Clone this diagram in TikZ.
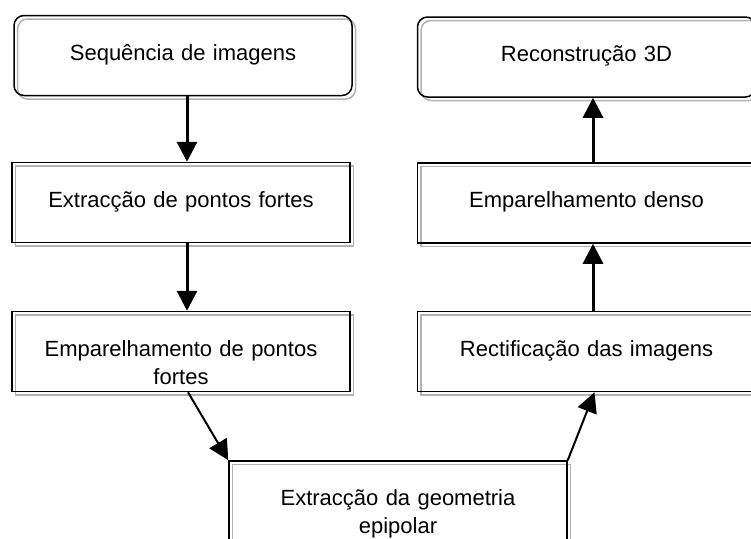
\documentclass[tikz,border=0pt]{standalone}
\usepackage{fontspec}
\setmainfont{Liberation Sans}
\usetikzlibrary{arrows.meta,shadows}
\begin{document}
\begin{tikzpicture}[x=1pt,y=-1pt,>={Triangle[length=20pt,width=20pt]},
  box/.style={draw,line width=1.5pt,minimum width=338pt,minimum height=80pt,
    text width=310pt,align=center,text height=30pt,text depth=21pt,
    font=\fontsize{22}{28}\selectfont,
    copy shadow={shadow xshift=3.5pt,shadow yshift=-3.5pt,draw=gray!60,fill=none,opacity=1,line width=1.5pt}},
  endbox/.style={box,rounded corners=10pt},
  flow/.style={->,line width=3pt},
  link/.style={->,line width=2pt}]
\useasboundingbox (0,0) rectangle (751,538);

\node[endbox] (seq) at (183,55.5) {Sequência de imagens};
\node[box] (ext) at (181,202.5) {Extracção de pontos fortes};
\node[box] (emp) at (181,351.5) {Emparelhamento de pontos\\fortes};
\node[box] (geo) at (398,501) {Extracção da geometria\\epipolar};
\node[box] (rct) at (586.5,351.5) {Rectificação das imagens};
\node[box] (den) at (586.5,203) {Emparelhamento denso};
\node[endbox] (rec) at (586.5,57) {Reconstrução 3D};

\draw[flow] ([xshift=4pt]seq.south)--([xshift=6pt]ext.north);
\draw[flow] ([xshift=6pt]ext.south)--([xshift=6pt]emp.north);
\draw[link] ([xshift=7pt]emp.south)--(geo.north west);
\draw[link] (geo.north east)--([xshift=8pt]rct.south);
\draw[flow] ([xshift=6.5pt]rct.north)--([xshift=6.5pt]den.south);
\draw[flow] ([xshift=6.5pt]den.north)--([xshift=6.5pt]rec.south);
\end{tikzpicture}
\end{document}
